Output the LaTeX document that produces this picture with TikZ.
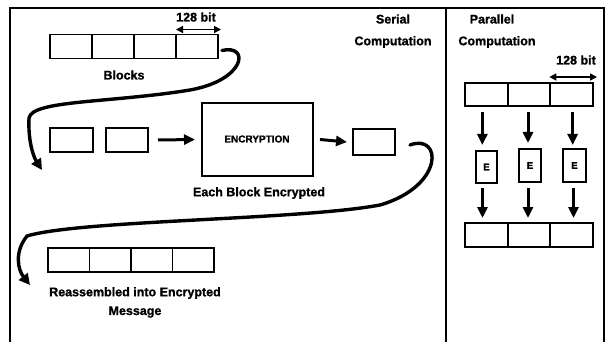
\documentclass[tikz,border=0pt]{standalone}
\usepackage{fontspec}
\setmainfont{Liberation Sans}[BoldFeatures={FakeBold=1.2}]
\usetikzlibrary{arrows.meta}
\begin{document}
\begin{tikzpicture}[x=1pt,y=-1pt,
  blk/.style={draw,line width=1.7pt,inner sep=0pt,outer sep=0pt,minimum height=24pt},
  lbl/.style={font=\fontsize{12.5}{14}\selectfont\bfseries,inner sep=0pt},
  bigarrow/.style={line width=3pt,-{Triangle[length=11pt,width=10pt]}},
  curvearrow/.style={line width=3.4pt,line cap=round,-{Triangle[length=11pt,width=11pt]}},
  dimarrow/.style={line width=1.6pt,{Triangle[length=7pt,width=7pt]}-{Triangle[length=7pt,width=7pt]}}]
\useasboundingbox (0,0) rectangle (605,342);
% frame
\draw[line width=2pt] (10,345) -- (10,8) -- (604,8) -- (604,345);
\draw[line width=2.2pt] (446,8) -- (446,345);
% serial: top blocks
\node[blk,minimum width=42pt] (b1) at (71,46.5) {};
\node[blk,minimum width=42pt] (b2) at (113,46.5) {};
\node[blk,minimum width=42pt] (b3) at (155,46.5) {};
\node[blk,minimum width=42pt] (b4) at (197,46.5) {};
\coordinate (d1) at ([yshift=5pt]b4.north west);
\coordinate (d2) at ([yshift=5pt,xshift=3pt]b4.north east);
\draw[dimarrow] (d1) -- (d2);
\node[lbl] (bit1) at (196,17) {128 bit};
\node[lbl] (blocks) at (124,75) {Blocks};
% middle row
\node[blk,minimum width=43pt] (m1) at (71.5,140) {};
\node[blk,minimum width=42pt] (m2) at (127,140) {};
\node[blk,minimum width=111pt,minimum height=73pt] (enc) at (257.5,139.5) {};
\node[font=\fontsize{10}{12}\selectfont\bfseries,inner sep=0pt] (enct) at (257,139) {ENCRYPTION};
\node[blk,minimum width=42pt,minimum height=26pt] (m3) at (374,142) {};
\node[lbl] (each) at (259,193) {Each Block Encrypted};
\draw[bigarrow] ([xshift=10pt]m2.east) -- ([xshift=-7pt]enc.west);
\draw[bigarrow] ([xshift=7pt]enc.east) -- ([xshift=-6pt]m3.west);
% bottom blocks
\node[blk,minimum width=41.5pt] (r1) at (68.75,260) {};
\node[blk,minimum width=41.5pt] (r2) at (110.25,260) {};
\node[blk,minimum width=41.5pt] (r3) at (151.75,260) {};
\node[blk,minimum width=41.5pt] (r4) at (193.25,260) {};
\node[lbl] (re1) at (135,293) {Reassembled into Encrypted};
\node[lbl] (re2) at (135,312) {Message};
% curves
\coordinate (c1s) at ([xshift=4pt,yshift=-4pt]b4.east);
\coordinate (c1e) at (42,170);
\draw[curvearrow] (c1s) .. controls (250,44) and (246,80) .. (190,90)
  .. controls (110,103) and (32,100) .. (29,118)
  .. controls (28,140) and (33,156) .. (c1e);
\coordinate (c2s) at ([xshift=15pt,yshift=-3pt]m3.east);
\coordinate (c2e) at (30,285);
\draw[curvearrow] (c2s) .. controls (442,133) and (445,186) .. (380,205)
  .. controls (300,220) and (80,220) .. (27,236)
  .. controls (14,252) and (18,270) .. (c2e);
% titles
\node[lbl] (s1) at (393,19) {Serial};
\node[lbl] (s2) at (393,42) {Computation};
\node[lbl] (p1) at (492,19) {Parallel};
\node[lbl] (p2) at (497,42) {Computation};
% parallel
\node[blk,minimum width=42.67pt,minimum height=23pt] (t1) at (486.33,94.5) {};
\node[blk,minimum width=42.67pt,minimum height=23pt] (t2) at (529,94.5) {};
\node[blk,minimum width=42.67pt,minimum height=23pt] (t3) at (571.67,94.5) {};
\coordinate (d3) at ([yshift=6pt,xshift=-1pt]t3.north west);
\coordinate (d4) at ([yshift=6pt,xshift=4pt]t3.north east);
\draw[dimarrow] (d3) -- (d4);
\node[lbl] (bit2) at (576,60) {128 bit};
\node[blk,minimum width=21pt,minimum height=32pt] (e1) at (486.5,167) {};
\node[blk,minimum width=22pt,minimum height=33pt] (e2) at (530,165.5) {};
\node[blk,minimum width=23pt,minimum height=33pt] (e3) at (574.5,165.5) {};
\node[font=\fontsize{9.5}{10}\selectfont\bfseries] at (e1) {E};
\node[font=\fontsize{9.5}{10}\selectfont\bfseries] at (e2) {E};
\node[font=\fontsize{9.5}{10}\selectfont\bfseries] at (e3) {E};
\node[blk,minimum width=42.67pt,minimum height=24pt] (u1) at (486.33,235) {};
\node[blk,minimum width=42.67pt,minimum height=24pt] (u2) at (529,235) {};
\node[blk,minimum width=42.67pt,minimum height=24pt] (u3) at (571.67,235) {};
\draw[bigarrow,shorten <=6pt,shorten >=6pt] ([xshift=-4pt]t1.south) -- ([xshift=-4pt]t1.south |- e1.north);
\draw[bigarrow,shorten <=6pt,shorten >=6pt] ([xshift=-1pt]t2.south) -- ([xshift=-1pt]t2.south |- e2.north);
\draw[bigarrow,shorten <=6pt,shorten >=4pt] ([xshift=1pt]t3.south) -- ([xshift=1pt]t3.south |- e3.north);
\draw[bigarrow,shorten <=5pt,shorten >=5pt] ([xshift=-4pt]e1.south) -- ([xshift=-4pt]e1.south |- u1.north);
\draw[bigarrow,shorten <=6pt,shorten >=5pt] ([xshift=-2pt]e2.south) -- ([xshift=-2pt]e2.south |- u2.north);
\draw[bigarrow,shorten <=6pt,shorten >=5pt] ([xshift=-1pt]e3.south) -- ([xshift=-1pt]e3.south |- u3.north);
\end{tikzpicture}
\end{document}
